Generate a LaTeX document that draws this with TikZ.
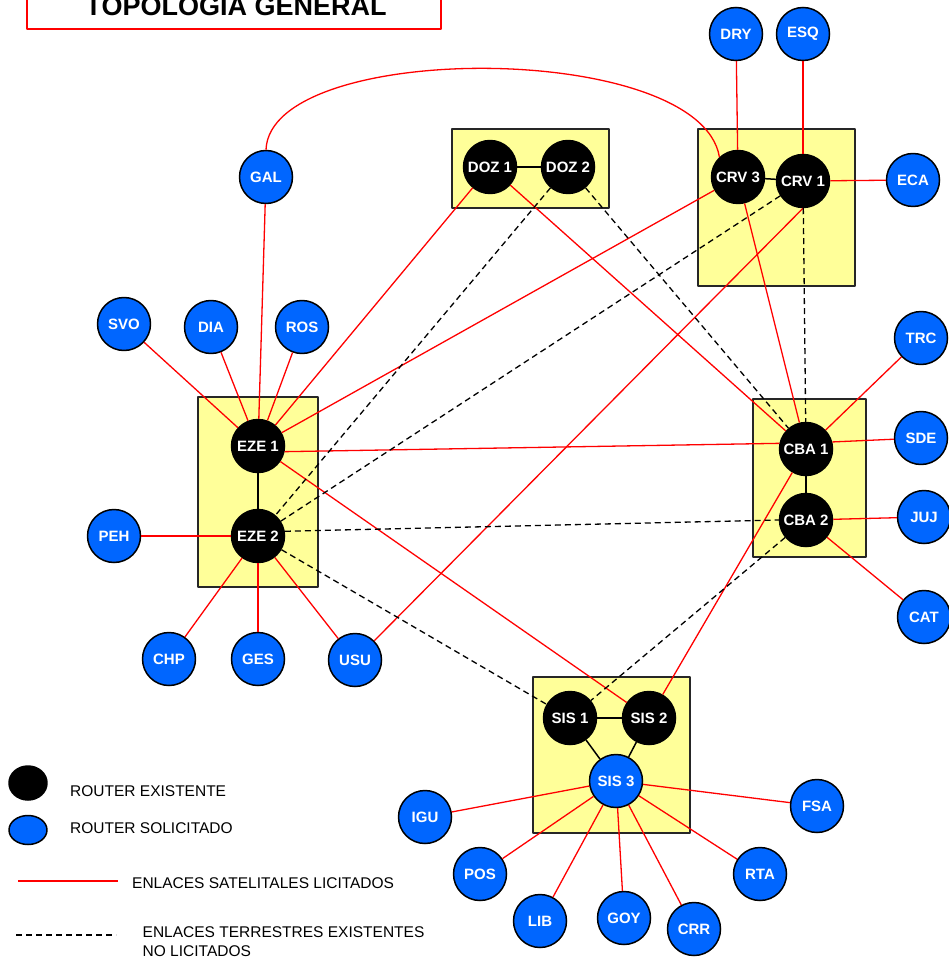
\documentclass[tikz,border=0pt]{standalone}
\usepackage{fontspec}
\setmainfont{Liberation Sans}
\usetikzlibrary{shapes.geometric}
\definecolor{azul}{RGB}{0,102,255}
\definecolor{amarillo}{RGB}{255,255,153}
\definecolor{rojo}{RGB}{255,0,0}
\begin{document}
\begin{tikzpicture}[x=1pt, y=-1pt, line join=round]
      \tikzset{
	  existente/.style={circle, draw=black, fill=black, line width=1.5pt, minimum size=53pt, inner sep=0pt, text=white, font=\fontsize{15}{18}\selectfont\bfseries},
	  solicitado/.style={existente, fill=azul},
	  zona/.style={draw=black!85, fill=amarillo, line width=1.5pt},
	  enlace/.style={draw=black, line width=1.5pt},
	  satelital/.style={draw=rojo, line width=1.3pt},
	  terrestre/.style={draw=black, line width=1.3pt, dash pattern=on 6pt off 4pt},
	  leyenda/.style={anchor=west, inner sep=0pt, align=left, font=\fontsize{15.5}{19}\selectfont}
      }

      \useasboundingbox (0,0) rectangle (948,957);

      % titulo
      \draw[draw=rojo, line width=1.8pt] (27,-10) rectangle (441,29);
      \node[anchor=base, font=\fontsize{27}{32}\selectfont\bfseries] (titulo) at (236,16) {TOPOLOGIA GENERAL};

      % zonas
      \draw[zona] (452,129) rectangle (609,208);
      \draw[zona] (698,129) rectangle (855,286);
      \draw[zona] (198,397) rectangle (318,587);
      \draw[zona] (753,399) rectangle (866,557);
      \draw[zona] (533,677) rectangle (690,833);

      % routers existentes
      \node[existente] (doz1) at (490,167) {DOZ 1};
      \node[existente] (doz2) at (568,167) {DOZ 2};
      \node[existente] (crv3) at (738,177) {CRV 3};
      \node[existente] (crv1) at (803,181) {CRV 1};
      \node[existente] (eze1) at (258,446) {EZE 1};
      \node[existente] (eze2) at (258,536) {EZE 2};
      \node[existente] (cba1) at (806,449) {CBA 1};
      \node[existente] (cba2) at (806,520) {CBA 2};
      \node[existente] (sis1) at (570,718) {SIS 1};
      \node[existente] (sis2) at (649,718) {SIS 2};

      % routers solicitados
      \node[solicitado] (sis3) at (616,781) {SIS 3};
      \node[solicitado] (dry) at (736,34) {DRY};
      \node[solicitado] (esq) at (803,34) {ESQ};
      \node[solicitado] (eca) at (913,180) {ECA};
      \node[solicitado] (gal) at (266,177) {GAL};
      \node[solicitado] (svo) at (124,324) {SVO};
      \node[solicitado] (dia) at (211,327) {DIA};
      \node[solicitado] (ros) at (302,327) {ROS};
      \node[solicitado] (trc) at (921,338) {TRC};
      \node[solicitado] (sde) at (921,438) {SDE};
      \node[solicitado] (juj) at (924,517) {JUJ};
      \node[solicitado] (cat) at (924,617) {CAT};
      \node[solicitado] (peh) at (114,536) {PEH};
      \node[solicitado] (chp) at (169,659) {CHP};
      \node[solicitado] (ges) at (258,659) {GES};
      \node[solicitado] (usu) at (355,660) {USU};
      \node[solicitado] (igu) at (425,817) {IGU};
      \node[solicitado] (fsa) at (817,806) {FSA};
      \node[solicitado] (pos) at (480,874) {POS};
      \node[solicitado] (rta) at (760,874) {RTA};
      \node[solicitado] (lib) at (540,921) {LIB};
      \node[solicitado] (goy) at (624,918) {GOY};
      \node[solicitado] (crr) at (694,929) {CRR};

      % enlaces dentro de cada sitio
      \draw[enlace] (doz1) -- (doz2);
      \draw[enlace] (crv3) -- (crv1);
      \draw[enlace] (eze1) -- (eze2);
      \draw[enlace] (cba1) -- (cba2);
      \draw[enlace] (sis1) -- (sis2);
      \draw[enlace] (sis1) -- (sis3);
      \draw[enlace] (sis2) -- (sis3);

      % enlaces satelitales
      \draw[satelital] (gal.north) .. controls (270,40) and (700,40) .. (crv3.133);
      \draw[satelital] (gal) -- (eze1);
      \draw[satelital] (svo) -- (eze1);
      \draw[satelital] (dia) -- (eze1);
      \draw[satelital] (ros) -- (eze1);
      \draw[satelital] (doz1) -- (eze1);
      \draw[satelital] (crv3) -- (eze1);
      \draw[satelital] (eze1.-12) -- (cba1.168);
      \draw[satelital] (eze1) -- (sis2);
      \draw[satelital] (peh) -- (eze2);
      \draw[satelital] (eze2) -- (chp);
      \draw[satelital] (eze2) -- (ges);
      \draw[satelital] (eze2) -- (usu);
      \draw[satelital] (usu.45) -- (crv1.south);
      \draw[satelital] (doz1) -- (cba1);
      \draw[satelital] (dry) -- (crv3);
      \draw[satelital] (esq) -- (crv1);
      \draw[satelital] (eca) -- (crv1);
      \draw[satelital] (crv3) -- (cba1);
      \draw[satelital] (trc) -- (cba1);
      \draw[satelital] (sde) -- (cba1.15);
      \draw[satelital] (juj) -- (cba2);
      \draw[satelital] (cat) -- (cba2);
      \draw[satelital] (cba1) -- (sis2);
      \draw[satelital] (sis3) -- (igu);
      \draw[satelital] (sis3) -- (pos);
      \draw[satelital] (sis3) -- (lib);
      \draw[satelital] (sis3) -- (goy);
      \draw[satelital] (sis3) -- (crr);
      \draw[satelital] (sis3) -- (rta);
      \draw[satelital] (sis3) -- (fsa);

      % enlaces terrestres
      \draw[terrestre] (doz2) -- (eze2);
      \draw[terrestre] (crv1) -- (eze2);
      \draw[terrestre] (doz2) -- (cba1);
      \draw[terrestre] (crv1) -- (cba1);
      \draw[terrestre] (eze2.10) -- (cba2.west);
      \draw[terrestre] (eze2) -- (sis1);
      \draw[terrestre] (cba2) -- (sis1);

      % leyenda
      \node[ellipse, draw=black, fill=black, line width=1.5pt, minimum width=38pt, minimum height=34pt, inner sep=0pt] (legexist) at (28,783) {};
      \node[ellipse, draw=black, fill=azul, line width=1.5pt, minimum width=38pt, minimum height=29pt, inner sep=0pt] (legsolic) at (28,830) {};
      \node[leyenda] (txtexist) at (70,791) {ROUTER EXISTENTE};
      \node[leyenda] (txtsolic) at (70,828) {ROUTER SOLICITADO};
      \coordinate (satini) at (18,881);
      \coordinate (satfin) at (118,881);
      \draw[satelital] (satini) -- (satfin);
      \node[leyenda] (txtsat) at (132,883.5) {ENLACES SATELITALES LICITADOS};
      \coordinate (terini) at (16,935);
      \coordinate (terfin) at (116,935);
      \draw[terrestre] (terini) -- (terfin);
      \node[leyenda, anchor=north west] (txtter) at (142.5,926) {ENLACES TERRESTRES EXISTENTES\\NO LICITADOS};
    \end{tikzpicture}
\end{document}
